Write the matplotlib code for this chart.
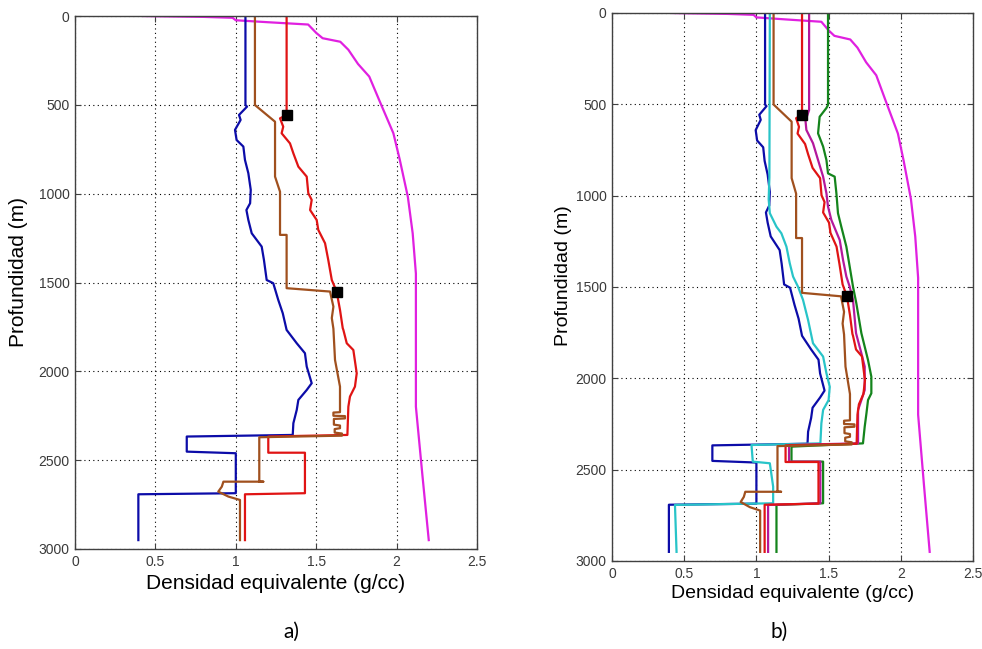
import matplotlib
matplotlib.use("Agg")
import matplotlib.pyplot as plt
from matplotlib.ticker import FixedLocator, FixedFormatter

# ---- Density profiles (g/cc) versus depth (m) ----
# Overburden gradient
mag_x = [0.42, 0.55, 0.80, 0.98, 1.00, 1.20, 1.45, 1.50, 1.54, 1.65, 1.70, 1.76, 1.83,
         1.90, 1.98, 2.02, 2.07, 2.10, 2.12, 2.12, 2.12, 2.16, 2.20]
mag_y = [0, 2, 5, 10, 24, 35, 48, 95, 125, 145, 190, 270, 341,
         491, 660, 810, 1018, 1223, 1450, 1800, 2199, 2580, 2950]

# Pore pressure
blue_x = [1.06, 1.06, 1.07, 1.02, 1.03, 0.995, 1.005, 1.047, 1.057, 1.078, 1.093, 1.089,
          1.066, 1.078, 1.099, 1.161, 1.175, 1.192, 1.233, 1.264, 1.292, 1.316, 1.379,
          1.430, 1.441, 1.472, 1.441, 1.389, 1.379, 1.358, 1.354, 0.695, 0.695, 1.0, 1.0,
          0.394, 0.394]
blue_y = [0, 501, 510, 557, 585, 641, 698, 735, 810, 885, 979, 1054,
          1092, 1148, 1223, 1298, 1373, 1486, 1504, 1598, 1673, 1767, 1842,
          1898, 1973, 2067, 2105, 2161, 2217, 2292, 2358, 2367, 2452, 2461, 2686,
          2692, 2950]

# Fracture gradient
red_x = [1.316, 1.316, 1.275, 1.295, 1.285, 1.337, 1.358, 1.389, 1.441, 1.451, 1.472,
         1.462, 1.503, 1.513, 1.555, 1.575, 1.597, 1.627, 1.648, 1.665, 1.669, 1.69,
         1.731, 1.752, 1.741, 1.71, 1.70, 1.694, 1.202, 1.202, 1.430, 1.430, 1.057, 1.057]
red_y = [0, 557, 576, 623, 660, 717, 773, 848, 904, 998, 1035,
         1092, 1148, 1204, 1279, 1373, 1486, 1551, 1654, 1757, 1767, 1842,
         1880, 2011, 2086, 2142, 2199, 2358, 2367, 2458, 2458, 2686, 2692, 2950]

# Mud weight program
brown_x = [1.119, 1.119, 1.244, 1.244, 1.275, 1.275, 1.316, 1.316, 1.586, 1.607, 1.597,
           1.607, 1.617, 1.648, 1.648, 1.648, 1.607, 1.607, 1.679, 1.679, 1.610, 1.610,
           1.648, 1.648, 1.615, 1.615, 1.660, 1.660, 1.146, 1.146, 1.171, 0.923, 0.913,
           0.891, 0.954, 1.026, 1.026]
brown_y = [0, 501, 595, 904, 989, 1232, 1232, 1532, 1551, 1636, 1700,
           1760, 1936, 2086, 2217, 2230, 2232, 2250, 2252, 2265, 2268, 2300,
           2305, 2320, 2325, 2345, 2350, 2362, 2371, 2621, 2621, 2621, 2649,
           2677, 2705, 2724, 2950]

# Additional profiles (panel b)
cyan_x = [1.093, 1.09, 1.085, 1.093, 1.139, 1.173, 1.208, 1.231, 1.254, 1.288, 1.323,
          1.358, 1.392, 1.462, 1.485, 1.508, 1.50, 1.462, 1.450, 1.443, 0.966, 0.975,
          1.093, 1.116, 1.116, 0.436, 0.447]
cyan_y = [0, 900, 1020, 1096, 1170, 1206, 1279, 1370, 1443, 1498, 1571,
          1681, 1808, 1881, 1972, 2046, 2119, 2173, 2246, 2356, 2365, 2456,
          2465, 2593, 2684, 2693, 2950]

purple_x = [1.365, 1.365, 1.34, 1.346, 1.392, 1.427, 1.462, 1.485, 1.496, 1.519, 1.577,
            1.60, 1.623, 1.646, 1.669, 1.69, 1.727, 1.75, 1.75, 1.727, 1.704, 1.704,
            1.226, 1.226, 1.443, 1.443, 1.081, 1.081]
purple_y = [0, 531, 590, 640, 713, 805, 896, 987, 1060, 1133, 1243,
            1352, 1443, 1498, 1571, 1753, 1863, 1936, 2064, 2119, 2173, 2356,
            2365, 2456, 2456, 2684, 2693, 2950]

green_x = [1.496, 1.496, 1.485, 1.438, 1.427, 1.462, 1.485, 1.496, 1.542, 1.554, 1.565,
           1.588, 1.623, 1.646, 1.669, 1.692, 1.727, 1.773, 1.796, 1.796, 1.773, 1.762,
           1.75, 1.738, 1.243, 1.243, 1.462, 1.462, 1.139, 1.139]
green_y = [0, 503, 520, 568, 659, 731, 805, 878, 896, 987, 1096,
           1170, 1279, 1388, 1498, 1589, 1753, 1900, 1991, 2082, 2119, 2192,
           2265, 2356, 2374, 2456, 2456, 2684, 2693, 2950]

# Casing shoe points
shoe_x = [1.316, 1.63]
shoe_y = [557, 1551]

x_ticks = [0, 0.5, 1, 1.5, 2, 2.5]
x_ticklabels = ["0", "0.5", "1", "1.5", "2", "2.5"]
y_ticks = [0, 500, 1000, 1500, 2000, 2500, 3000]
y_ticklabels = ["0", "500", "1000", "1500", "2000", "2500", "3000"]

xlabel = "Densidad equivalente (g/cc)"
ylabel = "Profundidad (m)"
panel_tags = ["a)", "b)"]

C_BLUE = "#0c0ca8"
C_RED = "#e01414"
C_BROWN = "#a0501e"
C_MAG = "#e020e0"
C_CYAN = "#28c4c8"
C_PURPLE = "#b4189c"
C_GREEN = "#14841c"

plt.rcParams["font.family"] = ["Liberation Sans", "DejaVu Sans"]

fig = plt.figure(figsize=(9.82, 6.49), dpi=100)
ax_a = fig.add_axes([75 / 982, 1 - 549 / 649, 402 / 982, 533 / 649])
ax_b = fig.add_axes([612 / 982, 1 - 561 / 649, 361 / 982, 548 / 649])

LW = 1.6


def style_axes(ax, label_size, tick_size, ylab_x, ylab_y, xlab_y):
    ax.set_xlim(0, 2.5)
    ax.set_ylim(3000, 0)
    ax.xaxis.set_major_locator(FixedLocator(x_ticks))
    ax.xaxis.set_major_formatter(FixedFormatter(x_ticklabels))
    ax.yaxis.set_major_locator(FixedLocator(y_ticks))
    ax.yaxis.set_major_formatter(FixedFormatter(y_ticklabels))
    ax.grid(True, linestyle=(0, (1, 3)), color="black", linewidth=0.8)
    ax.tick_params(direction="in", top=True, right=True, length=4,
                   labelsize=tick_size, labelcolor="#3a3a3a", color="#404040",
                   pad=4)
    for s in ax.spines.values():
        s.set_color("#404040")
        s.set_linewidth(1.0)
    ax.set_xlabel(xlabel, fontsize=label_size)
    ax.set_ylabel(ylabel, fontsize=label_size)
    ax.xaxis.set_label_coords(0.5, xlab_y)
    ax.yaxis.set_label_coords(ylab_x, ylab_y)


def draw_common(ax):
    ax.plot(mag_x, mag_y, color=C_MAG, lw=LW)
    ax.plot(blue_x, blue_y, color=C_BLUE, lw=LW)


# Panel a
draw_common(ax_a)
ax_a.plot(red_x, red_y, color=C_RED, lw=LW)
ax_a.plot(brown_x, brown_y, color=C_BROWN, lw=LW)
ax_a.plot(shoe_x, shoe_y, linestyle="none", marker="s", color="black", ms=6.5)
style_axes(ax_a, 15, 10, -0.117, 0.52, -0.047)

# Panel b
draw_common(ax_b)
ax_b.plot(cyan_x, cyan_y, color=C_CYAN, lw=LW)
ax_b.plot(green_x, green_y, color=C_GREEN, lw=LW)
ax_b.plot(purple_x, purple_y, color=C_PURPLE, lw=LW)
ax_b.plot(red_x, red_y, color=C_RED, lw=LW)
ax_b.plot(brown_x, brown_y, color=C_BROWN, lw=LW)
ax_b.plot(shoe_x, shoe_y, linestyle="none", marker="s", color="black", ms=6.5)
style_axes(ax_b, 14, 10, -0.111, 0.52, -0.044)

fig.text(291 / 982, 1 - 632 / 649, panel_tags[0], fontsize=15, family="Lato",
         ha="center", va="center")
fig.text(779 / 982, 1 - 632 / 649, panel_tags[1], fontsize=15, family="Lato",
         ha="center", va="center")

fig.savefig("out.png", dpi=100, facecolor="white")
